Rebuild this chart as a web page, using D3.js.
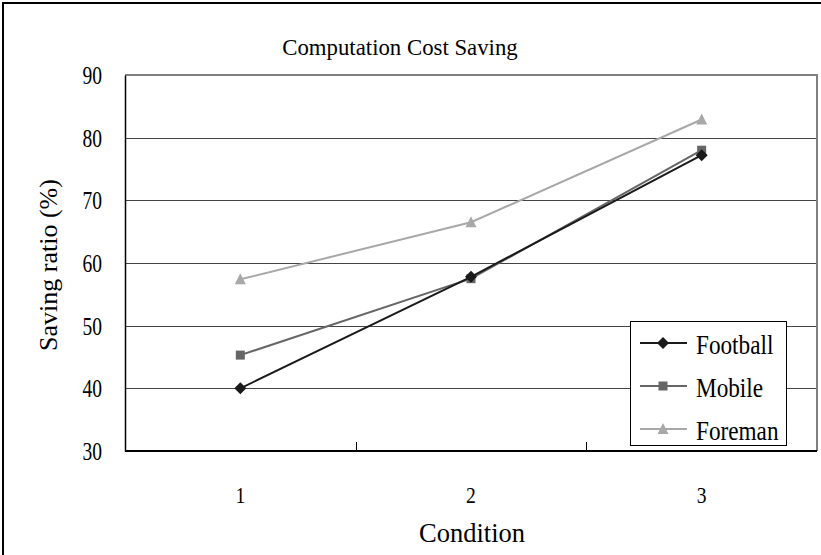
<!DOCTYPE html>
<html lang="en">
<head>
    <meta charset="UTF-8">
    <title>Computation Cost Saving</title>
    <script src="https://d3js.org/d3.v7.min.js"></script>
    <style>
        body { margin: 0; background: #fff; }
    </style>
</head>
<body>
    <svg width="821" height="555"></svg>

    <script>
        // chart data
        const conditions = ["1", "2", "3"];
        const seriesNames = ["Football", "Mobile", "Foreman"];
        const football = [40.0, 57.8, 77.2];
        const mobile = [45.3, 57.5, 78.0];
        const foreman = [57.4, 66.5, 82.9];
        const yTicks = [30, 40, 50, 60, 70, 80, 90];

        const seriesColors = ["#1a1a1a", "#666666", "#a8a8a8"];
        const seriesValues = [football, mobile, foreman];
        const FONT = "'Liberation Serif', 'Times New Roman', serif";

        // diamond, square, triangle markers
        const markerPath = [
            "M0,-6L6,0L0,6L-6,0Z",
            "M-4.5,-4.5H4.5V4.5H-4.5Z",
            "M0,-6L5.5,5H-5.5Z"
        ];

        const svg = d3.select("svg");

        // text helper: the original font is tall and narrow, so squeeze horizontally
        function addText(parent, x, y, str, size, sx, anchor) {
            return parent.append("text")
                .attr("transform", `translate(${x},${y}) scale(${sx},1)`)
                .attr("font-family", FONT)
                .attr("font-size", size)
                .attr("text-anchor", anchor || "start")
                .attr("fill", "#000")
                .text(str);
        }

        // outer frame (only top/left edges are visible in the picture)
        svg.append("rect")
            .attr("x", 3).attr("y", 3)
            .attr("width", 840).attr("height", 580)
            .attr("fill", "none")
            .attr("stroke", "#000")
            .attr("stroke-width", 2);

        const plot = { left: 125, top: 75, right: 817, bottom: 451 };

        const x = d3.scaleBand()
            .domain(conditions)
            .range([plot.left, plot.right]);

        const y = d3.scaleLinear()
            .domain([30, 90])
            .range([plot.bottom, plot.top]);

        // gridlines
        svg.append("g")
            .selectAll("line")
            .data(yTicks.filter(t => t > 30 && t < 90))
            .enter().append("line")
            .attr("x1", plot.left).attr("x2", plot.right)
            .attr("y1", d => Math.round(y(d)) + 0.5)
            .attr("y2", d => Math.round(y(d)) + 0.5)
            .attr("stroke", "#444")
            .attr("stroke-width", 1);

        // top and right border of the plot area
        svg.append("path")
            .attr("d", `M${plot.left},${plot.top}H${plot.right}V${plot.bottom}`)
            .attr("fill", "none")
            .attr("stroke", "#808080")
            .attr("stroke-width", 2);

        // y axis (labels drawn separately to control the font shape)
        const yAxis = svg.append("g")
            .attr("transform", `translate(${plot.left},0)`)
            .call(d3.axisLeft(y).tickValues(yTicks).tickSize(0).tickFormat(""));
        yAxis.select(".domain").attr("stroke", "#000").attr("stroke-width", 1.5);
        yTicks.forEach(t => addText(svg, 102, y(t) + 9, String(t), 26, 0.75, "end"));

        // x axis with ticks at band edges
        const xAxis = svg.append("g")
            .attr("transform", `translate(0,${plot.bottom})`);
        xAxis.append("line")
            .attr("x1", plot.left).attr("x2", plot.right)
            .attr("stroke", "#000").attr("stroke-width", 2);
        xAxis.selectAll(".tick-mark")
            .data(conditions.slice(1))
            .enter().append("line")
            .attr("class", "tick-mark")
            .attr("x1", d => Math.round(x(d)) + 0.5)
            .attr("x2", d => Math.round(x(d)) + 0.5)
            .attr("y1", 0).attr("y2", -9)
            .attr("stroke", "#000");
        conditions.forEach(c =>
            addText(svg, x(c) + x.bandwidth() / 2, 503, c, 23, 0.85, "middle"));

        // titles
        addText(svg, 400, 55, "Computation Cost Saving", 23.5, 0.97, "middle");
        addText(svg, 472, 542, "Condition", 26.5, 1, "middle");
        svg.append("text")
            .attr("transform", "translate(57,265) rotate(-90)")
            .attr("font-family", FONT)
            .attr("font-size", 26)
            .attr("text-anchor", "middle")
            .text("Saving ratio (%)");

        // series
        const line = d3.line()
            .x((d, i) => x(conditions[i]) + x.bandwidth() / 2)
            .y(d => y(d));

        const drawOrder = [2, 1, 0];
        drawOrder.forEach(s => {
            const g = svg.append("g");
            g.append("path")
                .datum(seriesValues[s])
                .attr("d", line)
                .attr("fill", "none")
                .attr("stroke", seriesColors[s])
                .attr("stroke-width", 2);
            g.selectAll("path.marker")
                .data(seriesValues[s])
                .enter().append("path")
                .attr("class", "marker")
                .attr("d", markerPath[s])
                .attr("transform", (d, i) =>
                    `translate(${x(conditions[i]) + x.bandwidth() / 2},${y(d)})`)
                .attr("fill", seriesColors[s]);
        });

        // legend
        const legend = svg.append("g");
        legend.append("rect")
            .attr("x", 630.5).attr("y", 321.5)
            .attr("width", 156).attr("height", 124)
            .attr("fill", "#fff")
            .attr("stroke", "#000");

        const legendY = [343, 386, 429];
        seriesNames.forEach((name, s) => {
            legend.append("line")
                .attr("x1", 640).attr("x2", 687)
                .attr("y1", legendY[s]).attr("y2", legendY[s])
                .attr("stroke", seriesColors[s])
                .attr("stroke-width", 2);
            legend.append("path")
                .attr("d", markerPath[s])
                .attr("transform", `translate(663,${legendY[s]})`)
                .attr("fill", seriesColors[s]);
            addText(legend, 696, legendY[s] + 11, name, 27, 0.86);
        });
    </script>
</body>
</html>
